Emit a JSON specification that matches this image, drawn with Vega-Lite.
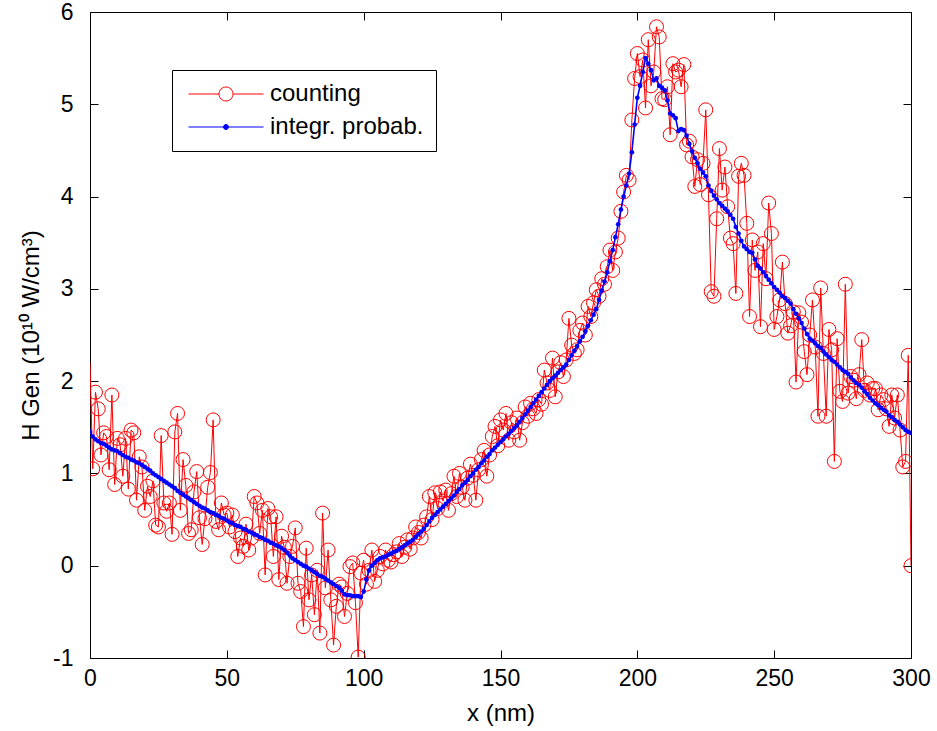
{
"$schema": "https://vega.github.io/schema/vega-lite/v6.json",
"width": 821, "height": 646,
"autosize": {"type": "none"},
"padding": {"left": 90, "top": 12, "right": 26, "bottom": 73},
"background": "white",
"config": {
 "font": "Liberation Sans",
 "view": {"stroke": "black", "strokeWidth": 1},
 "axis": {"grid": false, "labelFontSize": 23, "titleFontSize": 24, "titleFontWeight": "normal", "labelColor": "black", "titleColor": "black", "tickColor": "black", "domain": false, "tickSize": 8, "offset": -8, "tickWidth": 1, "labelFlush": false, "labelExpr": "'' + datum.value"}
},
"data": {"values": [
{"x":0,"c":2.20,"p":1.45},{"x":1,"c":1.05,"p":1.40},{"x":2,"c":1.88,"p":1.37},{"x":3,"c":1.70,"p":1.35},{"x":4,"c":1.20,"p":1.33},{"x":5,"c":1.44,"p":1.32},{"x":6,"c":1.40,"p":1.30},{"x":7,"c":1.04,"p":1.28},{"x":8,"c":1.85,"p":1.26},{"x":9,"c":0.88,"p":1.25},
{"x":10,"c":1.38,"p":1.24},{"x":11,"c":1.31,"p":1.22},{"x":12,"c":0.97,"p":1.20},{"x":13,"c":1.38,"p":1.18},{"x":14,"c":0.83,"p":1.17},{"x":15,"c":1.47,"p":1.15},{"x":16,"c":1.44,"p":1.14},{"x":17,"c":0.71,"p":1.12},{"x":18,"c":1.18,"p":1.11},{"x":19,"c":1.07,"p":1.09},
{"x":20,"c":0.60,"p":1.07},{"x":21,"c":0.86,"p":1.05},{"x":22,"c":0.75,"p":1.03},{"x":23,"c":0.92,"p":1.00},{"x":24,"c":0.44,"p":0.98},{"x":25,"c":0.42,"p":0.96},{"x":26,"c":1.41,"p":0.94},{"x":27,"c":0.68,"p":0.92},{"x":28,"c":0.59,"p":0.90},{"x":29,"c":0.68,"p":0.88},
{"x":30,"c":0.34,"p":0.86},{"x":31,"c":1.45,"p":0.84},{"x":32,"c":1.65,"p":0.81},{"x":33,"c":0.60,"p":0.79},{"x":34,"c":1.15,"p":0.77},{"x":35,"c":0.87,"p":0.75},{"x":36,"c":0.35,"p":0.73},{"x":37,"c":0.39,"p":0.71},{"x":38,"c":0.80,"p":0.69},{"x":39,"c":1.02,"p":0.67},
{"x":40,"c":0.52,"p":0.65},{"x":41,"c":0.23,"p":0.63},{"x":42,"c":0.51,"p":0.62},{"x":43,"c":0.85,"p":0.60},{"x":44,"c":1.01,"p":0.58},{"x":45,"c":1.58,"p":0.57},{"x":46,"c":0.48,"p":0.55},{"x":47,"c":0.39,"p":0.54},{"x":48,"c":0.68,"p":0.52},{"x":49,"c":0.55,"p":0.51},
{"x":50,"c":0.57,"p":0.49},{"x":51,"c":0.42,"p":0.47},{"x":52,"c":0.55,"p":0.46},{"x":53,"c":0.37,"p":0.44},{"x":54,"c":0.10,"p":0.43},{"x":55,"c":0.30,"p":0.42},{"x":56,"c":0.21,"p":0.40},{"x":57,"c":0.45,"p":0.39},{"x":58,"c":0.17,"p":0.37},{"x":59,"c":0.30,"p":0.36},
{"x":60,"c":0.75,"p":0.34},{"x":61,"c":0.68,"p":0.33},{"x":62,"c":0.35,"p":0.31},{"x":63,"c":0.60,"p":0.30},{"x":64,"c":-0.10,"p":0.28},{"x":65,"c":0.62,"p":0.27},{"x":66,"c":0.53,"p":0.25},{"x":67,"c":0.10,"p":0.24},{"x":68,"c":0.53,"p":0.22},{"x":69,"c":-0.15,"p":0.21},
{"x":70,"c":0.32,"p":0.19},{"x":71,"c":0.20,"p":0.17},{"x":72,"c":-0.19,"p":0.14},{"x":73,"c":0.10,"p":0.11},{"x":74,"c":0.21,"p":0.08},{"x":75,"c":0.41,"p":0.06},{"x":76,"c":-0.19,"p":0.04},{"x":77,"c":-0.28,"p":0.02},{"x":78,"c":-0.66,"p":0.00},{"x":79,"c":0.19,"p":-0.01},
{"x":80,"c":-0.37,"p":-0.03},{"x":81,"c":-0.10,"p":-0.05},{"x":82,"c":-0.53,"p":-0.07},{"x":83,"c":-0.05,"p":-0.09},{"x":84,"c":-0.73,"p":-0.11},{"x":85,"c":0.57,"p":-0.12},{"x":86,"c":-0.24,"p":-0.14},{"x":87,"c":0.17,"p":-0.16},{"x":88,"c":-0.37,"p":-0.18},{"x":89,"c":-0.86,"p":-0.20},
{"x":90,"c":-0.44,"p":-0.22},{"x":91,"c":-0.20,"p":-0.24},{"x":92,"c":-0.23,"p":-0.27},{"x":93,"c":-0.55,"p":-0.31},{"x":94,"c":-0.30,"p":-0.32},{"x":95,"c":-0.01,"p":-0.32},{"x":96,"c":0.03,"p":-0.33},{"x":97,"c":-0.40,"p":-0.33},{"x":98,"c":-0.99,"p":-0.33},{"x":99,"c":-0.08,"p":-0.34},
{"x":100,"c":0.06,"p":-0.28},{"x":101,"c":-0.20,"p":-0.15},{"x":102,"c":-0.05,"p":-0.05},{"x":103,"c":0.17,"p":0.00},{"x":104,"c":-0.17,"p":0.03},{"x":105,"c":-0.05,"p":0.06},{"x":106,"c":0.10,"p":0.08},{"x":107,"c":0.02,"p":0.09},{"x":108,"c":0.17,"p":0.10},{"x":109,"c":0.06,"p":0.12},
{"x":110,"c":0.04,"p":0.13},{"x":111,"c":0.12,"p":0.15},{"x":112,"c":0.15,"p":0.16},{"x":113,"c":0.24,"p":0.18},{"x":114,"c":0.10,"p":0.20},{"x":115,"c":0.20,"p":0.22},{"x":116,"c":0.28,"p":0.24},{"x":117,"c":0.18,"p":0.26},{"x":118,"c":0.30,"p":0.28},{"x":119,"c":0.42,"p":0.31},
{"x":120,"c":0.36,"p":0.34},{"x":121,"c":0.30,"p":0.37},{"x":122,"c":0.44,"p":0.40},{"x":123,"c":0.53,"p":0.44},{"x":124,"c":0.75,"p":0.48},{"x":125,"c":0.50,"p":0.52},{"x":126,"c":0.79,"p":0.55},{"x":127,"c":0.62,"p":0.58},{"x":128,"c":0.80,"p":0.61},{"x":129,"c":0.70,"p":0.64},
{"x":130,"c":0.82,"p":0.67},{"x":131,"c":0.60,"p":0.70},{"x":132,"c":0.78,"p":0.73},{"x":133,"c":0.97,"p":0.76},{"x":134,"c":0.75,"p":0.80},{"x":135,"c":1.00,"p":0.83},{"x":136,"c":0.85,"p":0.87},{"x":137,"c":0.71,"p":0.90},{"x":138,"c":0.95,"p":0.93},{"x":139,"c":1.10,"p":0.97},
{"x":140,"c":0.98,"p":1.00},{"x":141,"c":0.71,"p":1.04},{"x":142,"c":1.04,"p":1.07},{"x":143,"c":1.15,"p":1.11},{"x":144,"c":1.25,"p":1.14},{"x":145,"c":0.97,"p":1.18},{"x":146,"c":1.20,"p":1.21},{"x":147,"c":1.40,"p":1.25},{"x":148,"c":1.51,"p":1.28},{"x":149,"c":1.30,"p":1.31},
{"x":150,"c":1.58,"p":1.34},{"x":151,"c":1.47,"p":1.37},{"x":152,"c":1.65,"p":1.40},{"x":153,"c":1.36,"p":1.43},{"x":154,"c":1.55,"p":1.46},{"x":155,"c":1.45,"p":1.49},{"x":156,"c":1.60,"p":1.52},{"x":157,"c":1.36,"p":1.56},{"x":158,"c":1.55,"p":1.60},{"x":159,"c":1.72,"p":1.64},
{"x":160,"c":1.62,"p":1.68},{"x":161,"c":1.76,"p":1.72},{"x":162,"c":1.70,"p":1.76},{"x":163,"c":1.65,"p":1.80},{"x":164,"c":1.80,"p":1.84},{"x":165,"c":1.75,"p":1.88},{"x":166,"c":2.12,"p":1.92},{"x":167,"c":1.98,"p":1.96},{"x":168,"c":1.90,"p":2.00},{"x":169,"c":2.25,"p":2.03},
{"x":170,"c":1.83,"p":2.06},{"x":171,"c":2.10,"p":2.09},{"x":172,"c":2.20,"p":2.12},{"x":173,"c":2.05,"p":2.15},{"x":174,"c":2.23,"p":2.18},{"x":175,"c":2.68,"p":2.23},{"x":176,"c":2.39,"p":2.28},{"x":177,"c":2.30,"p":2.33},{"x":178,"c":2.34,"p":2.38},{"x":179,"c":2.55,"p":2.43},
{"x":180,"c":2.63,"p":2.48},{"x":181,"c":2.50,"p":2.54},{"x":182,"c":2.81,"p":2.60},{"x":183,"c":2.70,"p":2.66},{"x":184,"c":2.85,"p":2.72},{"x":185,"c":2.99,"p":2.78},{"x":186,"c":2.92,"p":2.88},{"x":187,"c":3.11,"p":2.98},{"x":188,"c":3.05,"p":3.08},{"x":189,"c":3.24,"p":3.18},
{"x":190,"c":3.42,"p":3.30},{"x":191,"c":3.20,"p":3.42},{"x":192,"c":3.40,"p":3.56},{"x":193,"c":3.55,"p":3.70},{"x":194,"c":3.84,"p":3.86},{"x":195,"c":4.05,"p":4.00},{"x":196,"c":4.23,"p":4.12},{"x":197,"c":4.18,"p":4.25},{"x":198,"c":4.83,"p":4.48},{"x":199,"c":5.28,"p":4.78},
{"x":200,"c":5.55,"p":5.07},{"x":201,"c":5.30,"p":5.20},{"x":202,"c":5.48,"p":5.35},{"x":203,"c":4.96,"p":5.50},{"x":204,"c":5.70,"p":5.44},{"x":205,"c":5.20,"p":5.37},{"x":206,"c":5.35,"p":5.26},{"x":207,"c":5.84,"p":5.28},{"x":208,"c":5.73,"p":5.20},{"x":209,"c":5.06,"p":5.18},
{"x":210,"c":5.05,"p":5.15},{"x":211,"c":5.19,"p":5.04},{"x":212,"c":4.67,"p":4.90},{"x":213,"c":5.44,"p":4.88},{"x":214,"c":5.35,"p":4.85},{"x":215,"c":5.37,"p":4.71},{"x":216,"c":5.19,"p":4.73},{"x":217,"c":5.43,"p":4.72},{"x":218,"c":4.56,"p":4.66},{"x":219,"c":4.60,"p":4.57},
{"x":220,"c":4.43,"p":4.49},{"x":221,"c":4.11,"p":4.42},{"x":222,"c":4.40,"p":4.36},{"x":223,"c":4.13,"p":4.30},{"x":224,"c":4.36,"p":4.26},{"x":225,"c":4.94,"p":4.22},{"x":226,"c":4.02,"p":4.12},{"x":227,"c":2.97,"p":4.06},{"x":228,"c":2.92,"p":4.01},{"x":229,"c":3.76,"p":3.97},
{"x":230,"c":4.52,"p":3.93},{"x":231,"c":4.07,"p":3.90},{"x":232,"c":4.32,"p":3.87},{"x":233,"c":3.89,"p":3.84},{"x":234,"c":3.55,"p":3.80},{"x":235,"c":3.49,"p":3.76},{"x":236,"c":2.95,"p":3.67},{"x":237,"c":4.22,"p":3.60},{"x":238,"c":4.36,"p":3.52},{"x":239,"c":4.23,"p":3.46},
{"x":240,"c":3.71,"p":3.43},{"x":241,"c":2.70,"p":3.40},{"x":242,"c":3.53,"p":3.39},{"x":243,"c":3.20,"p":3.32},{"x":244,"c":3.40,"p":3.25},{"x":245,"c":2.59,"p":3.22},{"x":246,"c":3.49,"p":3.18},{"x":247,"c":3.11,"p":3.14},{"x":248,"c":3.93,"p":3.10},{"x":249,"c":3.60,"p":3.06},
{"x":250,"c":2.56,"p":3.02},{"x":251,"c":2.70,"p":2.99},{"x":252,"c":2.88,"p":2.96},{"x":253,"c":3.29,"p":2.92},{"x":254,"c":2.84,"p":2.90},{"x":255,"c":2.52,"p":2.87},{"x":256,"c":2.60,"p":2.84},{"x":257,"c":2.75,"p":2.78},{"x":258,"c":1.99,"p":2.73},{"x":259,"c":2.74,"p":2.68},
{"x":260,"c":2.64,"p":2.63},{"x":261,"c":2.32,"p":2.57},{"x":262,"c":2.07,"p":2.51},{"x":263,"c":2.50,"p":2.46},{"x":264,"c":2.88,"p":2.44},{"x":265,"c":2.37,"p":2.41},{"x":266,"c":1.62,"p":2.38},{"x":267,"c":3.01,"p":2.36},{"x":268,"c":2.30,"p":2.32},{"x":269,"c":1.62,"p":2.29},
{"x":270,"c":2.56,"p":2.26},{"x":271,"c":2.34,"p":2.23},{"x":272,"c":1.13,"p":2.21},{"x":273,"c":2.46,"p":2.18},{"x":274,"c":1.89,"p":2.15},{"x":275,"c":1.78,"p":2.12},{"x":276,"c":3.05,"p":2.10},{"x":277,"c":1.87,"p":2.08},{"x":278,"c":2.05,"p":2.04},{"x":279,"c":2.01,"p":2.01},
{"x":280,"c":1.81,"p":1.98},{"x":281,"c":2.07,"p":1.96},{"x":282,"c":2.45,"p":1.93},{"x":283,"c":1.90,"p":1.89},{"x":284,"c":1.98,"p":1.86},{"x":285,"c":1.85,"p":1.82},{"x":286,"c":1.92,"p":1.79},{"x":287,"c":1.92,"p":1.76},{"x":288,"c":1.69,"p":1.74},{"x":289,"c":1.85,"p":1.71},
{"x":290,"c":1.80,"p":1.69},{"x":291,"c":1.70,"p":1.67},{"x":292,"c":1.51,"p":1.63},{"x":293,"c":1.85,"p":1.61},{"x":294,"c":1.60,"p":1.58},{"x":295,"c":1.85,"p":1.56},{"x":296,"c":1.47,"p":1.53},{"x":297,"c":1.07,"p":1.50},{"x":298,"c":1.13,"p":1.47},{"x":299,"c":2.28,"p":1.45},
{"x":300,"c":0.00,"p":1.44}
]},
"transform": [{"fold": ["c", "p"], "as": ["s", "y"]}],
"layer": [
 {
  "transform": [{"filter": "datum.s === 'c'"}],
  "mark": {"type": "line", "strokeWidth": 1, "clip": true},
  "encoding": {
   "x": {"field": "x", "type": "quantitative", "scale": {"domain": [0, 300], "nice": false, "zero": false},
         "axis": {"orient": "bottom", "title": "x (nm)", "values": [0, 50, 100, 150, 200, 250, 300], "labelPadding": 9, "titlePadding": 11}},
   "y": {"field": "y", "type": "quantitative", "scale": {"domain": [-1, 6], "nice": false, "zero": false},
         "axis": {"orient": "left", "title": "H Gen (10¹⁰ W/cm³)", "values": [-1, 0, 1, 2, 3, 4, 5, 6], "labelPadding": 17, "titlePadding": 9}},
   "color": {"field": "s", "type": "nominal", "scale": {"domain": ["c", "p"], "range": ["#ff0000", "#0000ff"]},
     "legend": {"title": null, "orient": "none", "legendX": 82, "legendY": 58, "direction": "vertical",
       "labelExpr": "datum.value === 'c' ? 'counting' : 'integr. probab.'",
       "labelFontSize": 24, "labelColor": "black",
       "strokeColor": "black", "fillColor": "white", "padding": 12,
       "symbolSize": 400, "symbolStrokeWidth": 1, "symbolOffset": 30, "labelOffset": 32, "rowPadding": 9,
       "encode": {"symbols": {"update": {
         "shape": {"signal": "datum.value === 'c' ? 'M-3.75,0H-0.7M0.7,0H3.75M0.7,0A0.7,0.7 0 1,1 -0.7,0A0.7,0.7 0 1,1 0.7,0' : 'M-3.75,0H3.75M0.25,0A0.25,0.25 0 1,1 -0.25,0A0.25,0.25 0 1,1 0.25,0'"},
         "fill": {"signal": "datum.value === 'c' ? 'transparent' : '#0000ff'"}}}}}}
  }
 },
 {
  "transform": [{"filter": "datum.s === 'c' && datum.x > 0"}],
  "mark": {"type": "point", "shape": "circle", "filled": false, "size": 196, "strokeWidth": 1, "color": "#ff0000", "opacity": 1, "clip": true},
  "encoding": {
   "x": {"field": "x", "type": "quantitative", "axis": null},
   "y": {"field": "y", "type": "quantitative", "axis": null}
  }
 },
 {
  "transform": [{"filter": "datum.s === 'p'"}],
  "mark": {"type": "line", "strokeWidth": 1.6, "color": "#0000ff", "clip": true},
  "encoding": {
   "x": {"field": "x", "type": "quantitative", "axis": {"orient": "top", "labels": false, "title": null, "values": [0, 50, 100, 150, 200, 250, 300]}},
   "y": {"field": "y", "type": "quantitative", "axis": {"orient": "right", "labels": false, "title": null, "values": [-1, 0, 1, 2, 3, 4, 5, 6]}}
  }
 },
 {
  "transform": [{"filter": "datum.s === 'p'"}],
  "mark": {"type": "point", "shape": "circle", "filled": true, "size": 22, "color": "#0000ff", "opacity": 1, "clip": true},
  "encoding": {
   "x": {"field": "x", "type": "quantitative", "axis": null},
   "y": {"field": "y", "type": "quantitative", "axis": null}
  }
 }
],
"resolve": {"axis": {"x": "independent", "y": "independent"}}
}
